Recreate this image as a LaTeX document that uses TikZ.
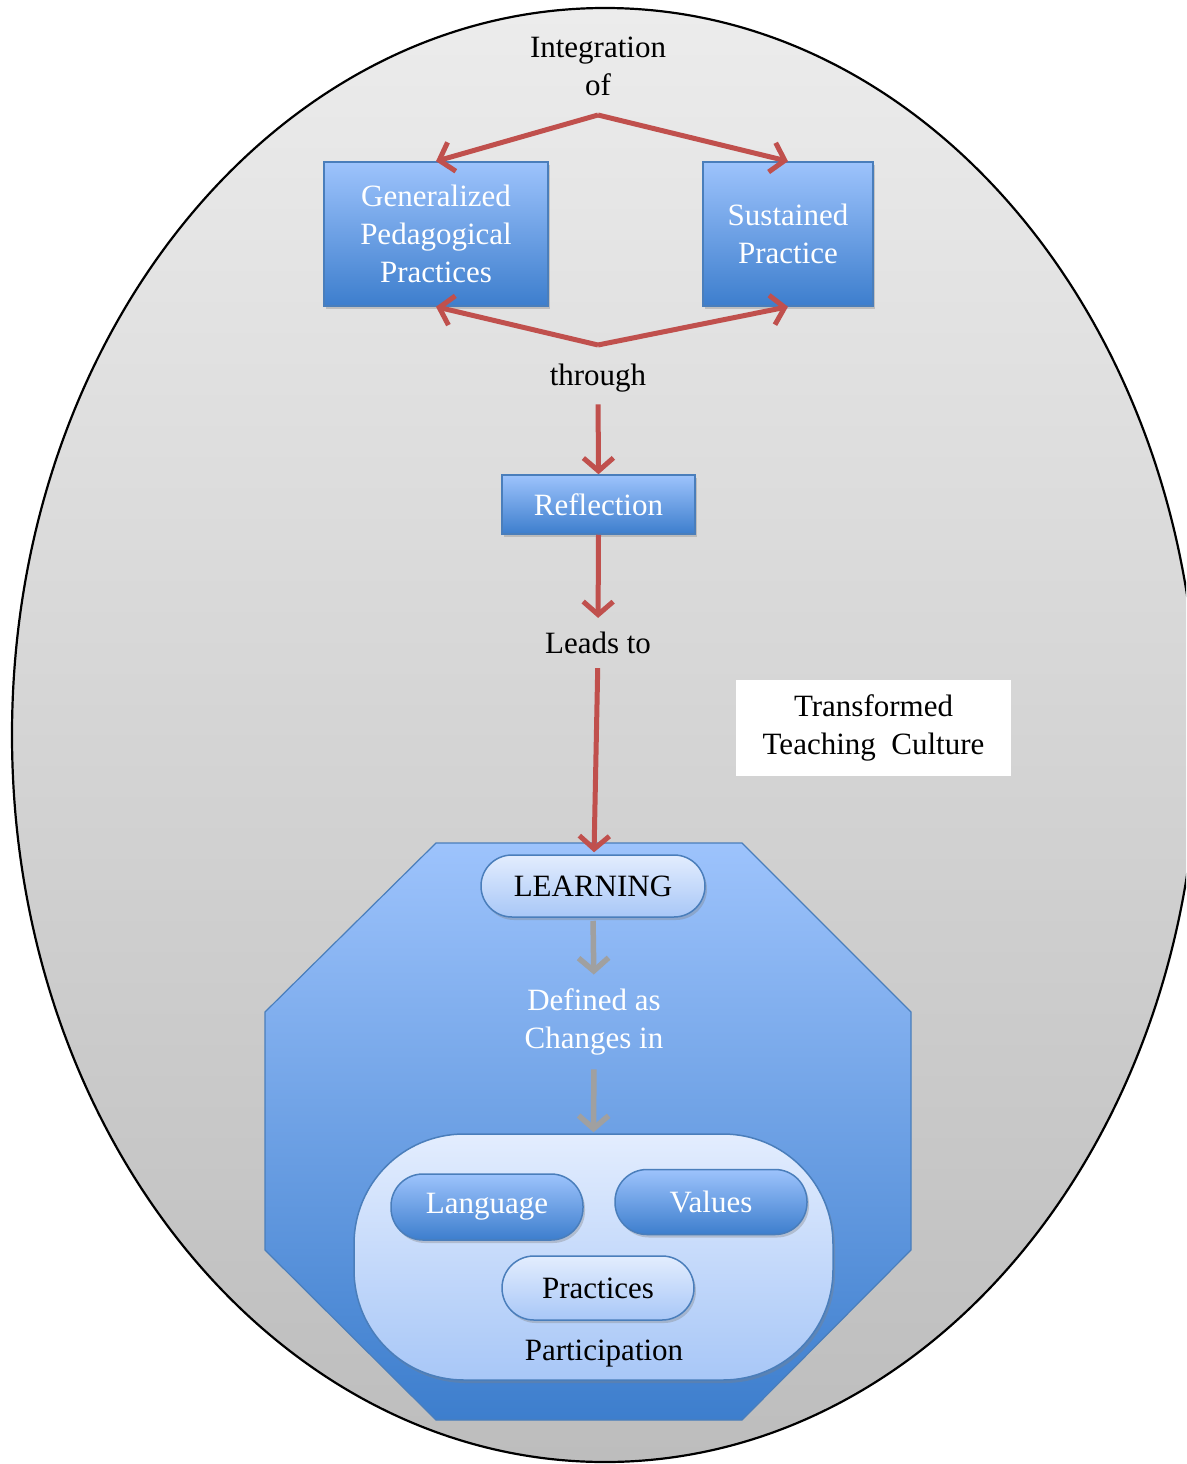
\documentclass[tikz,border=0pt]{standalone}
\usepackage{fontspec}
\setmainfont{Liberation Serif}
\usetikzlibrary{arrows.meta,shadows,calc}
\definecolor{arrred}{HTML}{C0504D}
\definecolor{bluetop}{HTML}{9DC3FC}
\definecolor{bluebot}{HTML}{3D7ECD}
\definecolor{blueedge}{HTML}{4A7EBB}
\definecolor{lighttop}{HTML}{E3EDFE}
\definecolor{lightbot}{HTML}{A8C7F7}
\definecolor{graytop}{HTML}{ECECEC}
\definecolor{graybot}{HTML}{BDBDBD}
\definecolor{arrgray}{HTML}{A0A0A0}
\tikzset{
  txt/.style={font=\fontsize{31}{38}\selectfont, align=center, inner sep=0pt},
  bluebox/.style={txt, draw=blueedge, line width=1.5pt, top color=bluetop, bottom color=bluebot, text=white,
     drop shadow={opacity=0.35, shadow xshift=2pt, shadow yshift=-3pt}},
  lightpill/.style={txt, draw=blueedge, line width=1.5pt, top color=lighttop, bottom color=lightbot, text=black,
     drop shadow={opacity=0.35, shadow xshift=2pt, shadow yshift=-3pt}},
  redarr/.style={draw=arrred, line width=5pt, -{Straight Barb[length=13pt,width=30pt]}},
  grayarr/.style={draw=arrgray, line width=5.5pt, -{Straight Barb[length=13pt,width=30pt]}},
}
\begin{document}
\begin{tikzpicture}[x=1pt,y=-1pt]
\useasboundingbox (0,0) rectangle (1186,1464);
\clip (0,0) rectangle (1186,1464);
\fill[white] (0,0) rectangle (1186,1464);
% big ellipse
\path[top color=graytop, bottom color=graybot, draw=black, line width=2.2pt] (605,735) ellipse [x radius=593, y radius=727];

% octagon
\path[top color=bluetop, bottom color=bluebot, draw=blueedge, line width=1.2pt]
  (436,843) -- (742,843) -- (911,1012) -- (911,1250) -- (742,1420) -- (436,1420) -- (265,1250) -- (265,1012) -- cycle;

% top texts
\node[txt] (integ) at (598,66) {Integration\\of};
\node[bluebox, minimum width=224pt, minimum height=144pt] (gpp) at (436,234) {Generalized\\Pedagogical\\Practices};
\node[bluebox, minimum width=170pt, minimum height=144pt] (sp) at (788,234) {Sustained\\Practice};
\coordinate (apextop) at (598,115);
\coordinate (apexbot) at (598,345);
\node[txt] (through) at (598,378) {through};
\node[bluebox, minimum width=193pt, minimum height=59pt] (refl) at (598.5,504.5) {Reflection};
\node[txt] (leads) at (598,643) {Leads to};
\node[txt, fill=white, minimum width=275pt, minimum height=96pt] (ttc) at (873.5,728) {Transformed\\Teaching\ \ Culture};

% lower part
\node[txt, draw=blueedge, line width=1.5pt, top color=lighttop, bottom color=lightbot, rounded corners=110pt,
      minimum width=479pt, minimum height=246pt,
      drop shadow={opacity=0.35, shadow xshift=2pt, shadow yshift=-3pt}] (part) at (593.5,1257) {};
\node[lightpill, rounded corners=31pt, minimum width=224pt, minimum height=62pt] (learn) at (593,886) {LEARNING};
\node[txt, text=white] (defined) at (594,1022) {Defined as\\Changes in};
\node[bluebox, rounded corners=32pt, minimum width=192pt, minimum height=66pt] (lang) at (487,1207) {Language};
\node[bluebox, rounded corners=32pt, minimum width=192pt, minimum height=65pt] (vals) at (711,1202) {Values};
\node[lightpill, rounded corners=32pt, minimum width=192pt, minimum height=64pt] (pract) at (598,1288) {Practices};
\node[txt] (partlbl) at (604,1354) {Participation};

% red arrows
\draw[redarr] (apextop) -- (gpp.north);
\draw[redarr] (apextop) -- (sp.north);
\draw[redarr] (apexbot) -- (gpp.south);
\draw[redarr] (apexbot) -- (sp.south);
\draw[redarr, shorten <=12pt] (through.south) -- (refl.north);
\draw[redarr, shorten >=14pt] (refl.south) -- (leads.north);
\draw[redarr, shorten <=14pt, shorten >=2pt] (leads.south) -- ($(learn.north)+(1,0)$);

% gray arrows
\draw[grayarr, shorten <=3pt, shorten >=14pt] (learn.south) -- (defined.north);
\draw[grayarr, shorten <=14pt, shorten >=1pt] (defined.south) -- (part.north);
\end{tikzpicture}
\end{document}
